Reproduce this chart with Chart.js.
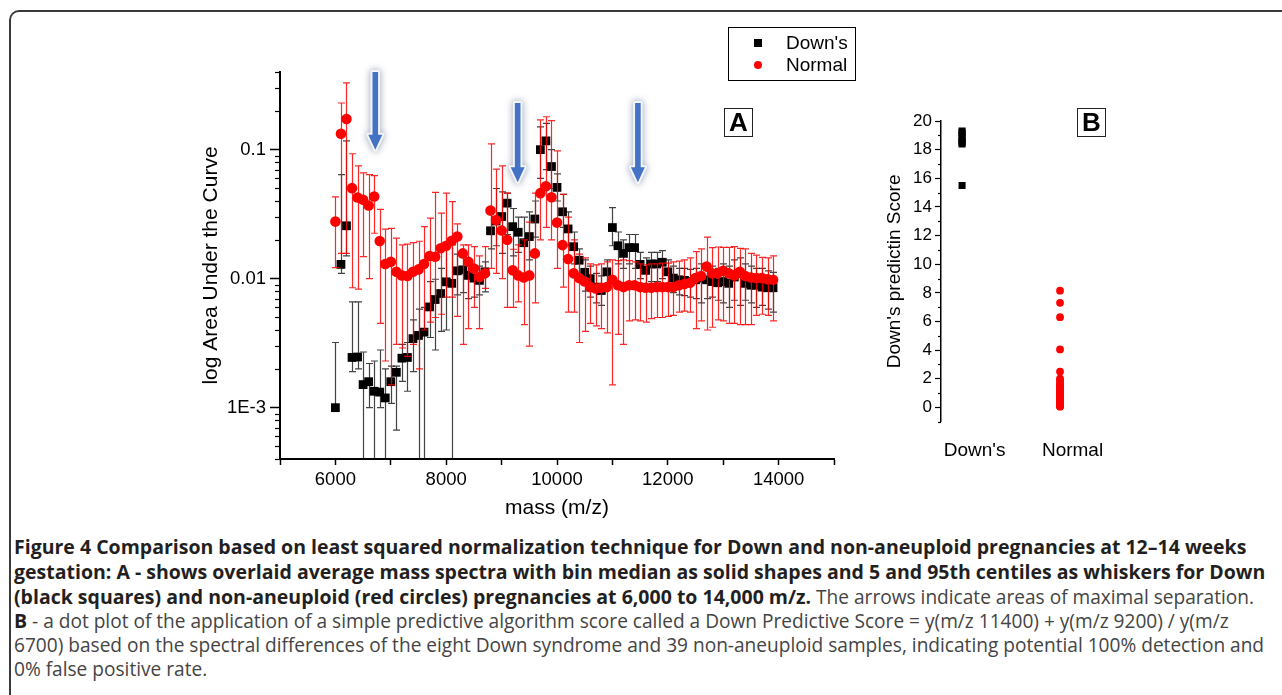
<!DOCTYPE html>
<html>
<head>
<meta charset="utf-8">
<script src="https://cdn.jsdelivr.net/npm/chart.js@4.4.1/dist/chart.umd.min.js"></script>
<style>
  body { margin: 0; width: 1282px; height: 695px; overflow: hidden; background: #fff; position: relative; font-family: "Liberation Sans", Arial, sans-serif; }
  #frame { position: absolute; left: 9px; top: 10px; width: 1400px; height: 800px; border-left: 2px solid #3a3a3a; border-top: 2px solid #3a3a3a; border-top-left-radius: 10px; }
  #wrapA { position: absolute; left: 150px; top: 50px; width: 710px; height: 480px; }
  #wrapB { position: absolute; left: 870px; top: 90px; width: 300px; height: 390px; }
  #legend { position: absolute; left: 728px; top: 27px; width: 126px; height: 52px; border: 1px solid #000; background: #fff; }
  #legend .sq { position: absolute; left: 25px; top: 11px; width: 7.5px; height: 7.5px; background: #000; }
  #legend .dot { position: absolute; left: 24.5px; top: 33px; width: 8.4px; height: 8.4px; border-radius: 50%; background: #ff0000; }
  #legend .txt { position: absolute; left: 57px; font-size: 19px; line-height: 22px; color: #000; }
  .panel { position: absolute; top: 108px; width: 27px; height: 27px; border: 1.5px solid #222; font: bold 26px "Liberation Sans", Arial, sans-serif; line-height: 27px; text-align: center; color: #000; background: #fff; }
  #caption { position: absolute; left: 14px; top: 535px; font-family: "Open Sans", sans-serif; font-size: 19.1px; line-height: 23.8px; color: #444; white-space: nowrap; }
  #caption b { color: #231f20; font-weight: 700; font-size: 19.5px; }
</style>
</head>
<body>
<div id="frame"></div>
<div id="wrapA"><canvas id="chartA" width="710" height="480"></canvas></div>
<div id="wrapB"><canvas id="chartB" width="300" height="390"></canvas></div>
<div id="legend">
  <div class="sq"></div><div class="txt" style="top:4px">Down's</div>
  <div class="dot"></div><div class="txt" style="top:26px">Normal</div>
</div>
<div class="panel" style="left:724px">A</div>
<div class="panel" style="left:1077px">B</div>
<div id="caption">
<b>Figure 4 Comparison based on least squared normalization technique for Down and non-aneuploid pregnancies at 12–14 weeks</b><br>
<b>gestation: A - shows overlaid average mass spectra with bin median as solid shapes and 5 and 95th centiles as whiskers for Down</b><br>
<b>(black squares) and non-aneuploid (red circles) pregnancies at 6,000 to 14,000 m/z.</b> The arrows indicate areas of maximal separation.<br>
<b>B</b> - a dot plot of the application of a simple predictive algorithm score called a Down Predictive Score = y(m/z 11400) + y(m/z 9200) / y(m/z<br>
6700) based on the spectral differences of the eight Down syndrome and 39 non-aneuploid samples, indicating potential 100% detection and<br>
0% false positive rate.
</div>

<script>
// --- panel A data: bin centre (m/z), median and 5th / 95th centiles ---
const masses = [
  6000, 6100, 6200, 6300, 6400, 6500, 6600, 6700, 6800, 6900,
  7000, 7100, 7200, 7300, 7400, 7500, 7600, 7700, 7800, 7900,
  8000, 8100, 8200, 8300, 8400, 8500, 8600, 8700, 8800, 8900,
  9000, 9100, 9200, 9300, 9400, 9500, 9600, 9700, 9800, 9900,
  10000, 10100, 10200, 10300, 10400, 10500, 10600, 10700, 10800, 10900,
  11000, 11100, 11200, 11300, 11400, 11500, 11600, 11700, 11800, 11900,
  12000, 12100, 12200, 12300, 12400, 12500, 12600, 12700, 12800, 12900,
  13000, 13100, 13200, 13300, 13400, 13500, 13600, 13700, 13800, 13900
];

const downMedian = [
  0.001, 0.0129, 0.0257, 0.00245, 0.00247, 0.00151, 0.00159, 0.00134, 0.00132, 0.00119,
  0.00159, 0.00188, 0.00242, 0.00245, 0.00343, 0.00363, 0.00385, 0.00604, 0.00689, 0.00767,
  0.00945, 0.0092, 0.0115, 0.0117, 0.0106, 0.0101, 0.0097, 0.0113, 0.0235, 0.028,
  0.0303, 0.0385, 0.0253, 0.0229, 0.019, 0.0212, 0.029, 0.1, 0.117, 0.074,
  0.051, 0.033, 0.0243, 0.0177, 0.0139, 0.0112, 0.01, 0.0086, 0.0081, 0.0113,
  0.0249, 0.018, 0.0157, 0.0174, 0.0174, 0.0129, 0.0116, 0.013, 0.013, 0.0134,
  0.0113, 0.0101, 0.0098, 0.0097, 0.0095, 0.0098, 0.0101, 0.0098, 0.0095, 0.0093,
  0.0095, 0.0092, 0.0103, 0.011, 0.0092, 0.0089, 0.0089, 0.0086, 0.0085, 0.0085
];
const downHigh = [
  0.0032, 0.064, 0.117, 0.0066, 0.0066, 0.0027, 0.0022, 0.0023, 0.0028, 0.002,
  0.0021, 0.0021, 0.0031, 0.0032, 0.0048, 0.0058, 0.006, 0.0095, 0.0099, 0.012,
  0.0183, 0.0183, 0.0155, 0.015, 0.0135, 0.0125, 0.0125, 0.0135, 0.033, 0.05,
  0.047, 0.046, 0.035, 0.03, 0.03, 0.033, 0.04, 0.15, 0.16, 0.1,
  0.065, 0.045, 0.033, 0.023, 0.017, 0.014, 0.0125, 0.011, 0.0105, 0.014,
  0.0356, 0.023, 0.02, 0.022, 0.022, 0.016, 0.0145, 0.016, 0.016, 0.0165,
  0.014, 0.0125, 0.012, 0.012, 0.0118, 0.012, 0.013, 0.013, 0.0125, 0.012,
  0.013, 0.0125, 0.014, 0.0145, 0.013, 0.0125, 0.012, 0.012, 0.0115, 0.0112
];
const downLow = [
  0.001, 0.011, 0.015, 0.0019, 0.002, 0.0003, 0.001, 0.0003, 0.001, 0.0003,
  0.00108, 0.00067, 0.0016, 0.00134, 0.0019, 0.0003, 0.0003, 0.0035, 0.0028, 0.0039,
  0.004, 0.0003, 0.0075, 0.0078, 0.007, 0.0072, 0.0075, 0.0079, 0.017, 0.018,
  0.0157, 0.022, 0.015, 0.016, 0.0105, 0.014, 0.021, 0.06, 0.07, 0.05,
  0.04, 0.025, 0.018, 0.013, 0.01, 0.008, 0.0072, 0.0065, 0.0062, 0.0085,
  0.018, 0.013, 0.012, 0.013, 0.012, 0.01, 0.009, 0.0095, 0.0095, 0.01,
  0.0088, 0.0078, 0.0075, 0.0074, 0.0072, 0.007, 0.0065, 0.007, 0.0072, 0.0068,
  0.0065, 0.006, 0.0068, 0.0062, 0.0068, 0.0065, 0.006, 0.0062, 0.0058, 0.0055
];

const normalMedian = [
  0.0277, 0.133, 0.173, 0.0503, 0.0426, 0.0409, 0.0369, 0.0433, 0.0196, 0.013,
  0.0135, 0.0113, 0.0106, 0.0105, 0.0113, 0.0118, 0.013, 0.015, 0.0148, 0.0172,
  0.018, 0.0197, 0.0212, 0.0157, 0.0135, 0.012, 0.0103, 0.011, 0.0337, 0.0285,
  0.0236, 0.02, 0.0116, 0.0106, 0.0102, 0.0106, 0.0157, 0.046, 0.052, 0.0428,
  0.0272, 0.0182, 0.0142, 0.011, 0.0101, 0.0095, 0.0086, 0.0084, 0.0085, 0.0086,
  0.0098, 0.0089, 0.0086, 0.0089, 0.0089, 0.0086, 0.0085, 0.0085, 0.0086, 0.0086,
  0.0086, 0.0086, 0.0089, 0.0091, 0.0093, 0.0101, 0.0105, 0.0124, 0.011, 0.011,
  0.0115, 0.011, 0.0106, 0.0113, 0.0105, 0.0102, 0.0101, 0.0101, 0.0099, 0.0098
];
const normalHigh = [
  0.043, 0.23, 0.33, 0.093, 0.075, 0.066, 0.064, 0.063, 0.0345, 0.0242,
  0.0245, 0.0206, 0.0183, 0.0185, 0.019, 0.0195, 0.0253, 0.0295, 0.0466, 0.0322,
  0.046, 0.0396, 0.0266, 0.0183, 0.0183, 0.0177, 0.015, 0.0177, 0.111, 0.0707,
  0.075, 0.046, 0.0169, 0.0183, 0.02, 0.0274, 0.046, 0.17, 0.18, 0.168,
  0.098, 0.045, 0.03, 0.02, 0.0155, 0.0145, 0.013, 0.0128, 0.013, 0.0135,
  0.014, 0.0138, 0.014, 0.0138, 0.0135, 0.013, 0.0128, 0.013, 0.013, 0.0132,
  0.0132, 0.0135, 0.0137, 0.014, 0.0145, 0.0162, 0.017, 0.021, 0.0174, 0.0176,
  0.0175, 0.0175, 0.0177, 0.0172, 0.017, 0.0157, 0.0152, 0.0146, 0.0145, 0.015
];
const normalLow = [
  0.0122, 0.0157, 0.0157, 0.0085, 0.0083, 0.0148, 0.01, 0.0225, 0.0045, 0.0023,
  0.0015, 0.0031, 0.0029, 0.0025, 0.0031, 0.002, 0.004, 0.0046, 0.005, 0.0053,
  0.0072, 0.0072, 0.0051, 0.0031, 0.0041, 0.006, 0.0041, 0.0084, 0.012, 0.011,
  0.01, 0.006, 0.006, 0.0066, 0.0044, 0.003, 0.0065, 0.02, 0.025, 0.02,
  0.012, 0.0086, 0.0055, 0.0055, 0.0032, 0.0039, 0.0045, 0.0043, 0.0041, 0.0038,
  0.0015, 0.0037, 0.0031, 0.0047, 0.0048, 0.0047, 0.0046, 0.0049, 0.005, 0.005,
  0.0051, 0.0052, 0.0055, 0.0056, 0.0055, 0.0041, 0.0047, 0.004, 0.0042, 0.0048,
  0.0047, 0.0045, 0.0045, 0.0044, 0.0044, 0.0044, 0.0052, 0.0053, 0.0052, 0.0047
];

// axis ticks for panel A
const xTicks = [5000, 6000, 7000, 8000, 9000, 10000, 11000, 12000, 13000, 14000, 15000];
const xTickLabels = ['', '6000', '', '8000', '', '10000', '', '12000', '', '14000', ''];
const yTicks = [0.001, 0.01, 0.1];
const yTickLabels = ['1E-3', '0.01', '0.1'];
const yMinorTicks = [0.0004, 0.0005, 0.0006, 0.0007, 0.0008, 0.0009,
  0.002, 0.003, 0.004, 0.005, 0.006, 0.007, 0.008, 0.009,
  0.02, 0.03, 0.04, 0.05, 0.06, 0.07, 0.08, 0.09, 0.2, 0.3, 0.4];

// arrows marking the areas of maximal separation (m/z, top and tip on the log axis)
const arrowMasses = [6720, 9290, 11460];
const arrowTops = [0.4, 0.23, 0.23];
const arrowTips = [0.1, 0.056, 0.056];

// --- panel B data ---
const groupLabels = ["Down's", 'Normal'];
const groupPositions = [1, 2];
const downScores = [19.3, 19.2, 19.0, 18.8, 18.6, 18.5, 18.4, 15.5];
const normalScores = [8.15, 7.3, 6.3, 4.05, 2.5, 2.0, 1.9, 1.7, 1.6, 1.5,
  1.4, 1.3, 1.2, 1.1, 1.0, 0.95, 0.9, 0.85, 0.8, 0.75,
  0.7, 0.65, 0.6, 0.55, 0.5, 0.45, 0.4, 0.35, 0.3, 0.28,
  0.25, 0.22, 0.2, 0.18, 0.15, 0.12, 0.1, 0.08, 0.05];
const bTicks = [0, 2, 4, 6, 8, 10, 12, 14, 16, 18, 20];
const bMinorTicks = [-1, 1, 3, 5, 7, 9, 11, 13, 15, 17, 19];

Chart.defaults.font.family = '"Liberation Sans", Arial, sans-serif';
Chart.defaults.color = '#000';

// short ticks between the labelled ones on the y axis
const minorTicks = {
  id: 'minorTicks',
  afterDraw(chart, args, opts) {
    const s = chart.scales.y;
    const ctx = chart.ctx;
    ctx.save();
    ctx.strokeStyle = '#000';
    ctx.lineWidth = 1.2;
    opts.values.forEach(v => {
      const y = Math.round(s.getPixelForValue(v)) + 0.5;
      ctx.beginPath();
      ctx.moveTo(s.right - opts.length, y);
      ctx.lineTo(s.right, y);
      ctx.stroke();
    });
    ctx.restore();
  }
};

// whiskers drawn just before each dataset's markers
const errorBars = {
  id: 'errorBars',
  beforeDatasetDraw(chart, args) {
    const ds = chart.data.datasets[args.index];
    if (!ds.errLow) return;
    const { ctx, chartArea, scales: { x, y } } = chart;
    ctx.save();
    ctx.beginPath();
    ctx.rect(chartArea.left, chartArea.top, chartArea.right - chartArea.left, chartArea.bottom - chartArea.top);
    ctx.clip();
    ctx.strokeStyle = ds.errColor;
    ctx.lineWidth = 1.2;
    ds.data.forEach((p, i) => {
      const px = Math.round(x.getPixelForValue(p.x)) + 0.5;
      const yl = y.getPixelForValue(ds.errLow[i]);
      const yh = y.getPixelForValue(ds.errHigh[i]);
      ctx.beginPath();
      ctx.moveTo(px, yl); ctx.lineTo(px, yh);
      ctx.moveTo(px - 3.5, yh); ctx.lineTo(px + 3.5, yh);
      ctx.moveTo(px - 3.5, yl); ctx.lineTo(px + 3.5, yl);
      ctx.stroke();
    });
    ctx.restore();
  }
};

const arrows = {
  id: 'arrows',
  afterDatasetsDraw(chart) {
    const { ctx, scales: { x, y } } = chart;
    arrowMasses.forEach((m, i) => {
      const cx = x.getPixelForValue(m);
      const top = y.getPixelForValue(arrowTops[i]);
      const tip = y.getPixelForValue(arrowTips[i]);
      const sw = 2.8, hw = 7, hh = 15;
      ctx.save();
      ctx.beginPath();
      ctx.moveTo(cx - sw, top);
      ctx.lineTo(cx + sw, top);
      ctx.lineTo(cx + sw, tip - hh);
      ctx.lineTo(cx + hw, tip - hh);
      ctx.lineTo(cx, tip);
      ctx.lineTo(cx - hw, tip - hh);
      ctx.lineTo(cx - sw, tip - hh);
      ctx.closePath();
      ctx.shadowColor = 'rgba(40,60,100,0.55)';
      ctx.shadowBlur = 7;
      ctx.lineJoin = 'round';
      ctx.lineWidth = 4;
      ctx.strokeStyle = '#f2f4f8';
      ctx.stroke();
      ctx.shadowColor = 'transparent';
      ctx.fillStyle = '#4472c4';
      ctx.fill();
      ctx.restore();
    });
  }
};

const pts = (vals) => masses.map((m, i) => ({ x: m, y: vals[i] }));

new Chart(document.getElementById('chartA'), {
  type: 'scatter',
  data: {
    datasets: [
      { label: "Down's", data: pts(downMedian), errLow: downLow, errHigh: downHigh, errColor: 'rgba(20,20,20,0.8)',
        pointStyle: 'rect', pointRadius: 6.2, backgroundColor: '#000', borderWidth: 0, order: 1 },
      { label: 'Normal', data: pts(normalMedian), errLow: normalLow, errHigh: normalHigh, errColor: 'rgba(255,0,0,0.85)',
        pointStyle: 'circle', pointRadius: 5.3, backgroundColor: '#ff0000', borderWidth: 0, order: 0 }
    ]
  },
  options: {
    responsive: false,
    animation: false,
    layout: { padding: { top: 22, right: 26, left: 0, bottom: 0 } },
    plugins: {
      legend: { display: false },
      tooltip: { enabled: false },
      minorTicks: { values: yMinorTicks, length: 5 }
    },
    scales: {
      x: {
        type: 'linear', min: 5000, max: 15000,
        afterFit: s => { s.height = 71; },
        afterBuildTicks: s => { s.ticks = xTicks.map(v => ({ value: v })); },
        ticks: { autoSkip: false, maxRotation: 0, font: { size: 18.5 }, padding: 4, callback: (v, i) => xTickLabels[i] },
        grid: { drawOnChartArea: false, tickLength: 6, tickWidth: 1.5, color: '#000' },
        border: { color: '#000', width: 2 },
        title: { display: true, text: 'mass (m/z)', font: { size: 21 }, padding: { top: 0, bottom: 9 } }
      },
      y: {
        type: 'logarithmic', min: 0.0004, max: 0.4,
        afterFit: s => { s.width = 130; },
        afterBuildTicks: s => { s.ticks = yTicks.map(v => ({ value: v })); },
        ticks: { autoSkip: false, font: { size: 18.5 }, padding: 4, callback: (v, i) => yTickLabels[i] },
        grid: { drawOnChartArea: false, tickLength: 10, tickWidth: 1.5, color: '#000' },
        border: { color: '#000', width: 2 },
        title: { display: true, text: 'log Area Under the Curve', font: { size: 21 }, padding: { top: 49, bottom: 0 } }
      }
    }
  },
  plugins: [errorBars, minorTicks, arrows]
});

new Chart(document.getElementById('chartB'), {
  type: 'scatter',
  data: {
    datasets: [
      { label: "Down's", data: downScores.map(v => ({ x: groupPositions[0], y: v })),
        pointStyle: 'rect', pointRadius: 5, backgroundColor: '#000', borderWidth: 0 },
      { label: 'Normal', data: normalScores.map(v => ({ x: groupPositions[1], y: v })),
        pointStyle: 'circle', pointRadius: 3.9, backgroundColor: '#ff0000', borderWidth: 0 }
    ]
  },
  options: {
    responsive: false,
    animation: false,
    layout: { padding: { top: 31, right: 12, left: 0, bottom: 0 } },
    plugins: {
      legend: { display: false },
      tooltip: { enabled: false },
      minorTicks: { values: bMinorTicks, length: 3 }
    },
    scales: {
      x: {
        type: 'linear', min: 0.785, max: 3.0,
        afterFit: s => { s.height = 58.3; },
        afterBuildTicks: s => { s.ticks = groupPositions.map(v => ({ value: v })); },
        ticks: { autoSkip: false, maxRotation: 0, font: { size: 19 }, padding: 18, labelOffset: 12.5, callback: (v, i) => groupLabels[i] },
        grid: { display: false, drawTicks: false },
        border: { display: false }
      },
      y: {
        min: -1, max: 20,
        afterFit: s => { s.width = 71; },
        afterBuildTicks: s => { s.ticks = bTicks.map(v => ({ value: v })); },
        ticks: { autoSkip: false, font: { size: 17 }, padding: 3 },
        grid: { drawOnChartArea: false, tickLength: 6, tickWidth: 1.2, color: '#000' },
        border: { color: '#000', width: 1.5 },
        title: { display: true, text: "Down's predictin Score", font: { size: 19 }, padding: { top: 13.6, bottom: 0 } }
      }
    }
  },
  plugins: [minorTicks]
});
</script>
</body>
</html>
